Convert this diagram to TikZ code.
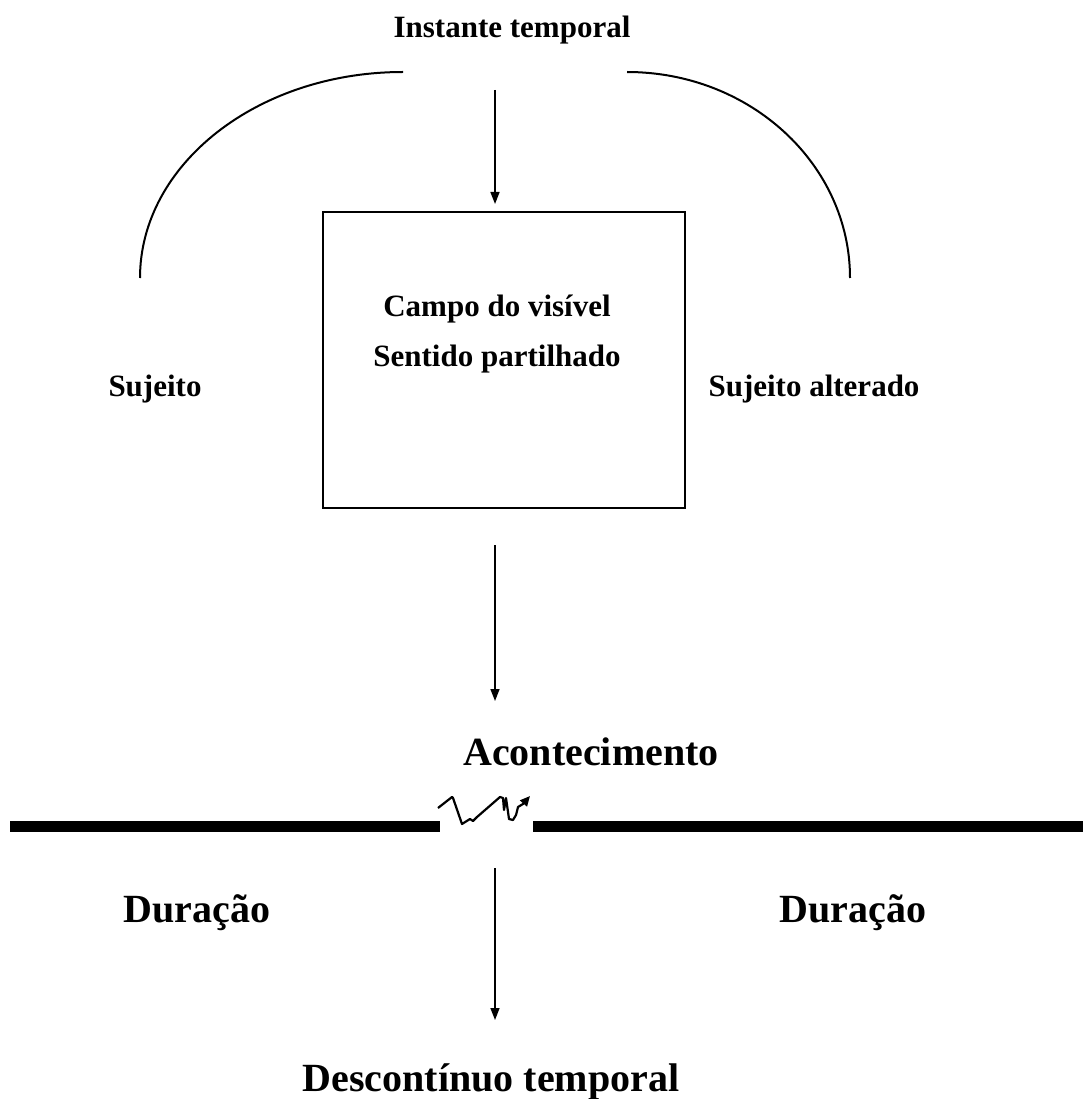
\documentclass[tikz,border=0pt]{standalone}
\usepackage{fontspec}
\setmainfont{Liberation Serif}
\usetikzlibrary{arrows.meta}

\tikzset{
  seta/.style={-{Triangle[length=12pt,width=9pt]}, line width=1.5pt},
  texto/.style={font=\bfseries\fontsize{31}{37}\selectfont, inner sep=0pt},
  textog/.style={font=\bfseries\fontsize{40}{48}\selectfont, inner sep=0pt},
  caixa/.style={draw, line width=2pt, minimum width=362pt, minimum height=296pt}
}

\begin{document}
\begin{tikzpicture}[x=1pt,y=-1pt]
\useasboundingbox (0,0) rectangle (1083,1099);

% texts
\node [texto] (instante) at (512,30) {Instante temporal};
\node [caixa] (visivel) at (504,360) {};
\node [texto] (campo) at (497,309) {Campo do vis\'{\i}vel};
\node [texto] (sentido) at (497,359) {Sentido partilhado};
\node [texto] (sujeito) at (155,389) {Sujeito};
\node [texto] (alterado) at (814,389) {Sujeito alterado};
\node [textog] (acont) at (591,752) {Acontecimento};
\node [textog] (duracaoL) at (197,913) {Dura\c{c}\~ao};
\node [textog] (duracaoR) at (853,913) {Dura\c{c}\~ao};
\node [textog] (descont) at (491,1082) {Descont\'{\i}nuo temporal};

% arcs round the box
\draw [line width=2pt] (403,72) arc [start angle=90, end angle=180, x radius=263, y radius=-206];
\draw [line width=2pt] (627,72) arc [start angle=90, end angle=0, x radius=223, y radius=-206];

% arrows
\coordinate (a1) at (495,90);
\coordinate (b1) at (495,204);
\draw [seta] (a1) -- (b1);
\coordinate (a2) at (495,545);
\coordinate (b2) at (495,701);
\draw [seta] (a2) -- (b2);
\coordinate (a3) at (495,868);
\coordinate (b3) at (495,1020);
\draw [seta] (a3) -- (b3);

% time line, with the break
\draw [line width=11pt] (10,826)--(440,826);
\draw [line width=11pt] (533,826)--(1083,826);

% squiggle
\draw [line width=2.2pt, line join=round, -{Triangle[length=10pt,width=9pt]}]
  (438,808)--(452,797)--(453,798)--(462,824)--(470,819)--(473,821)--(477,817)
  --(500,797)--(503,798)--(504,810)--(506,798)--(509,819)--(513,820)--(516,815)
  --(518,807)--(523,804)--(530,796);

\end{tikzpicture}
\end{document}
